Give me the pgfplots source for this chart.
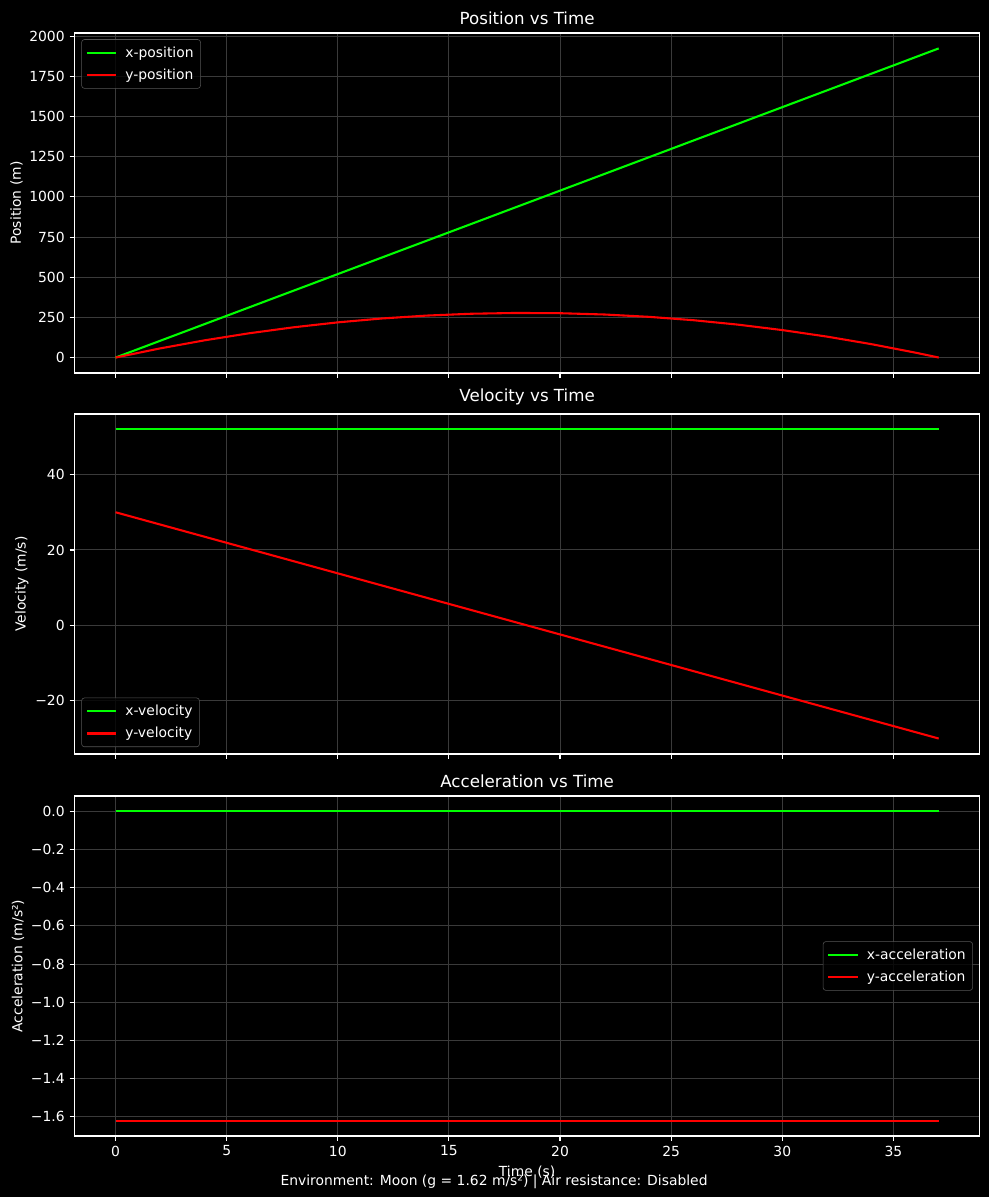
\documentclass[border=0pt]{standalone}
\usepackage{fontspec}
\setmainfont{DejaVu Sans}
\usepackage{pgfplots}
\pgfplotsset{compat=1.18}

\definecolor{lime}{HTML}{00FF00}
\definecolor{redl}{HTML}{FF0000}
\definecolor{gridc}{HTML}{3A3A3A}
\definecolor{legedge}{HTML}{555555}

\pgfplotsset{
  darkax/.style={
    scale only axis, width=651.9bp, height=244.8bp,
    axis background/.style={fill=black},
    axis line style={white, line width=0.8bp},
    xmin=-1.852, xmax=38.89,
    xtick={0,5,...,35},
    tick align=outside, tick pos=left,
    major tick length=3.5bp,
    every tick/.style={white, line width=0.8bp},
    grid=major, grid style={gridc, line width=0.7bp},
    scaled ticks=false,
    ticklabel style={font=\fontsize{10bp}{12bp}\selectfont, text=white},
    /pgf/number format/assume math mode=true,
    label style={font=\fontsize{10bp}{12bp}\selectfont, text=white},
    ylabel style={yshift=-2bp},
    title style={font=\fontsize{12bp}{14bp}\selectfont, text=white, anchor=south, yshift=-3.3bp},
    legend cell align=left,
    legend style={fill=black, fill opacity=0.8, text opacity=1, draw=legedge,
      rounded corners=2bp, text=white, font=\fontsize{10bp}{12bp}\selectfont,
      inner xsep=3bp, inner ysep=3bp, row sep=3bp, column sep=4bp},
    legend image code/.code={\draw[##1] (0bp,0bp) -- (21bp,0bp);},
    every axis plot/.append style={line width=1.5bp, mark=none},
  }
}

\begin{document}
\begin{tikzpicture}
\fill[black] (0,0) rectangle (712.08bp,861.84bp);

% position
\begin{axis}[darkax, at={(53.57bp,593.28bp)}, anchor=south west,
  title={Position vs Time}, ylabel={Position (m)},
  ymin=-96.2, ymax=2020.7,
  ytick={0,250,...,2000},
  yticklabels={0,250,500,750,1000,1250,1500,1750,2000},
  xticklabels={},
  legend style={at={(0,1)}, anchor=north west, xshift=5bp, yshift=-4.5bp}]
\addplot[lime] coordinates {(0,0) (37.04,1924.6)};
\addlegendentry{x-position}
\addplot[redl] coordinates {
  (0,0) (2,56.76) (4,107.04) (6,150.84) (8,188.16) (10,219) (12,243.36)
  (14,261.24) (16,272.64) (18,277.56) (20,276) (22,267.96) (24,253.44)
  (26,232.44) (28,204.96) (30,171) (32,130.56) (34,83.64) (36,30.24) (37.04,0)};
\addlegendentry{y-position}
\end{axis}

% velocity
\begin{axis}[darkax, at={(53.57bp,318.96bp)}, anchor=south west,
  title={Velocity vs Time}, ylabel={Velocity (m/s)},
  ymin=-34.1, ymax=56.06,
  ytick={-20,0,20,40},
  yticklabels={−20,0,20,40},
  xticklabels={},
  legend style={at={(0,0)}, anchor=south west, xshift=5bp, yshift=5bp}]
\addplot[lime] coordinates {(0,51.96) (37.04,51.96)};
\addlegendentry{x-velocity}
\addplot[redl] coordinates {(0,30) (37.04,-30)};
\addlegendentry{y-velocity}
\end{axis}

% acceleration
\begin{axis}[darkax, at={(53.57bp,43.92bp)}, anchor=south west,
  title={Acceleration vs Time}, ylabel={Acceleration (m/s²)},
  xlabel={Time (s)},
  ymin=-1.701, ymax=0.081,
  ytick={-1.6,-1.4,-1.2,-1,-0.8,-0.6,-0.4,-0.2,0},
  yticklabels={−1.6,−1.4,−1.2,−1.0,−0.8,−0.6,−0.4,−0.2,0.0},
  xticklabels={0,5,10,15,20,25,30,35},
  legend style={at={(1,0.5)}, anchor=east, xshift=-5bp}]
\addplot[lime] coordinates {(0,0) (37.04,0)};
\addlegendentry{x-acceleration}
\addplot[redl] coordinates {(0,-1.62) (37.04,-1.62)};
\addlegendentry{y-acceleration}
\end{axis}

\node[text=white, font=\fontsize{10bp}{12bp}\selectfont] at (355.7bp,11bp)
  {Environment: Moon (g = 1.62 m/s²) | Air resistance: Disabled};
\end{tikzpicture}
\end{document}
